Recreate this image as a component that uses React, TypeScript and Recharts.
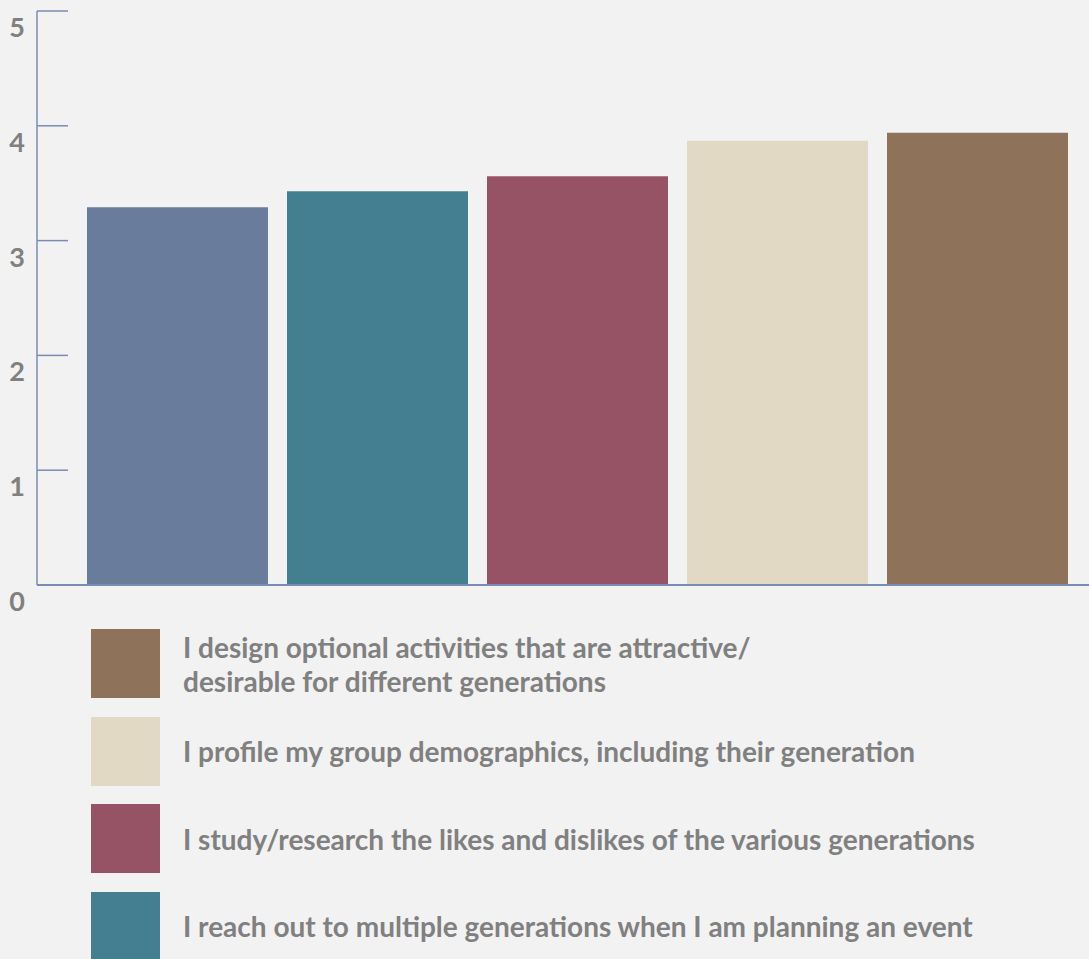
import React from 'react'
import { BarChart, Bar, Cell, XAxis, YAxis } from 'recharts'

const categories = ['Bar 1', 'Bar 2', 'Bar 3', 'Bar 4', 'Bar 5']
const scores = [3.29, 3.43, 3.56, 3.87, 3.94]
const colors = ['#6a7c9b', '#447e91', '#975366', '#e1d9c4', '#8e725a']
const legendLabels = [
  '',
  'I reach out to multiple generations when I am planning an event',
  'I study/research the likes and dislikes of the various generations',
  'I profile my group demographics, including their generation',
  'I design optional activities that are attractive/\ndesirable for different generations',
]
const yTicks = [0, 1, 2, 3, 4, 5]

const AXIS = '#7b8cb2'
const TEXT = '#808080'
const FONT = 'Lato, "Open Sans", sans-serif'

const data = categories.map((name, i) => ({ name, value: scores[i] }))

function YTick(props: any) {
  const { x, y, payload } = props
  return (
    <g>
      {payload.value !== 0 && (
        <line x1={x} x2={x + 31} y1={y} y2={y} stroke={AXIS} strokeWidth={1.5} />
      )}
      <text
        x={17}
        y={y + 26}
        textAnchor="middle"
        fill={TEXT}
        fontSize={27}
        fontWeight={700}
        fontFamily={FONT}
      >
        {payload.value}
      </text>
    </g>
  )
}

export default function App() {
  // legend goes top-down in reverse bar order; the first bar's row is off the page
  const legend = categories
    .map((_, i) => ({ color: colors[i], label: legendLabels[i] }))
    .reverse()
    .filter((d) => d.label)

  return (
    <div
      style={{
        position: 'absolute',
        left: 0,
        top: 0,
        width: 1089,
        height: 959,
        background: '#f2f2f2',
        overflow: 'hidden',
      }}
    >
      <BarChart
        width={1089}
        height={630}
        data={data}
        margin={{ top: 11, right: 0, bottom: 44, left: 0 }}
        barSize={181}
      >
        <XAxis
          dataKey="name"
          height={1}
          tick={false}
          tickLine={false}
          axisLine={{ stroke: AXIS, strokeWidth: 2 }}
          padding={{ left: 40, right: 12 }}
        />
        <YAxis
          width={37}
          domain={[0, 5]}
          ticks={yTicks}
          interval={0}
          tickSize={0}
          tickMargin={0}
          tickLine={false}
          axisLine={{ stroke: AXIS, strokeWidth: 1.5 }}
          tick={<YTick />}
        />
        <Bar dataKey="value" isAnimationActive={false}>
          {data.map((_, i) => (
            <Cell key={i} fill={colors[i]} />
          ))}
        </Bar>
      </BarChart>

      <div style={{ position: 'absolute', left: 91, top: 629 }}>
        {legend.map((item) => (
          <div
            key={item.label}
            style={{ display: 'flex', alignItems: 'center', height: 69, marginBottom: 18.5 }}
          >
            <div style={{ width: 69, height: 69, background: item.color, flexShrink: 0 }} />
            <div
              style={{
                marginLeft: 23,
                color: TEXT,
                fontFamily: FONT,
                fontWeight: 700,
                fontSize: 28,
                lineHeight: '34px',
                whiteSpace: 'pre',
              }}
            >
              {item.label}
            </div>
          </div>
        ))}
      </div>
    </div>
  )
}
